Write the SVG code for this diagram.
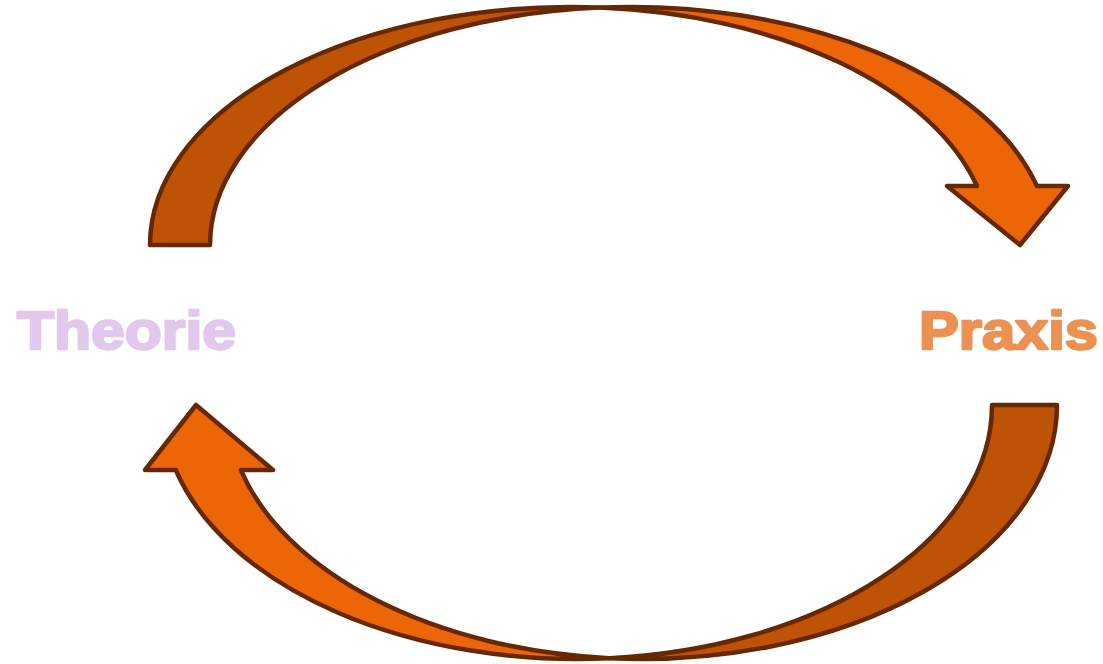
<svg xmlns="http://www.w3.org/2000/svg" width="1103" height="664" viewBox="0 0 1103 664">
  <style>
    .back { fill: #BE5306; stroke: #662800; stroke-width: 4.5; stroke-linejoin: round; }
    .front { fill: #EC6608; stroke: #662800; stroke-width: 4.5; stroke-linejoin: round; }
    .label { font-family: "Liberation Sans", Arial, sans-serif; font-weight: bold; font-size: 53px; stroke-width: 2.4; stroke-linejoin: round; }
  </style>
  <rect x="0" y="0" width="1103" height="664" fill="#FFFFFF"/>
  <g id="connectors">
    <g id="arrow-theorie-praxis">
      <path class="back" d="M150,245 A420,238 0 0 1 600,7.61 A420,238 0 0 0 210,245 Z"/>
      <path class="front" d="M600,7.61 A420,238 0 0 1 1036.9,186 L1068,186 L1020,245 L947,186 L976.9,186 A420,238 0 0 0 600,7.61 Z"/>
    </g>
    <g id="arrow-praxis-theorie">
      <path class="back" d="M1057,405 A415,254 0 0 1 609.5,658.22 A415,254 0 0 0 992,405 Z"/>
      <path class="front" d="M609.5,658.22 A415,254 0 0 1 175.8,470 L145,470 L196,405 L273,470 L240.8,470 A415,254 0 0 0 609.5,658.22 Z"/>
    </g>
  </g>
  <g id="node-theorie">
    <text class="label" x="17" y="349" fill="#E1C8EC" stroke="#E1C8EC" textLength="219" lengthAdjust="spacingAndGlyphs">Theorie</text>
  </g>
  <g id="node-praxis">
    <text class="label" x="919" y="349" fill="#EC9152" stroke="#EC9152" textLength="179" lengthAdjust="spacingAndGlyphs">Praxis</text>
  </g>
</svg>
